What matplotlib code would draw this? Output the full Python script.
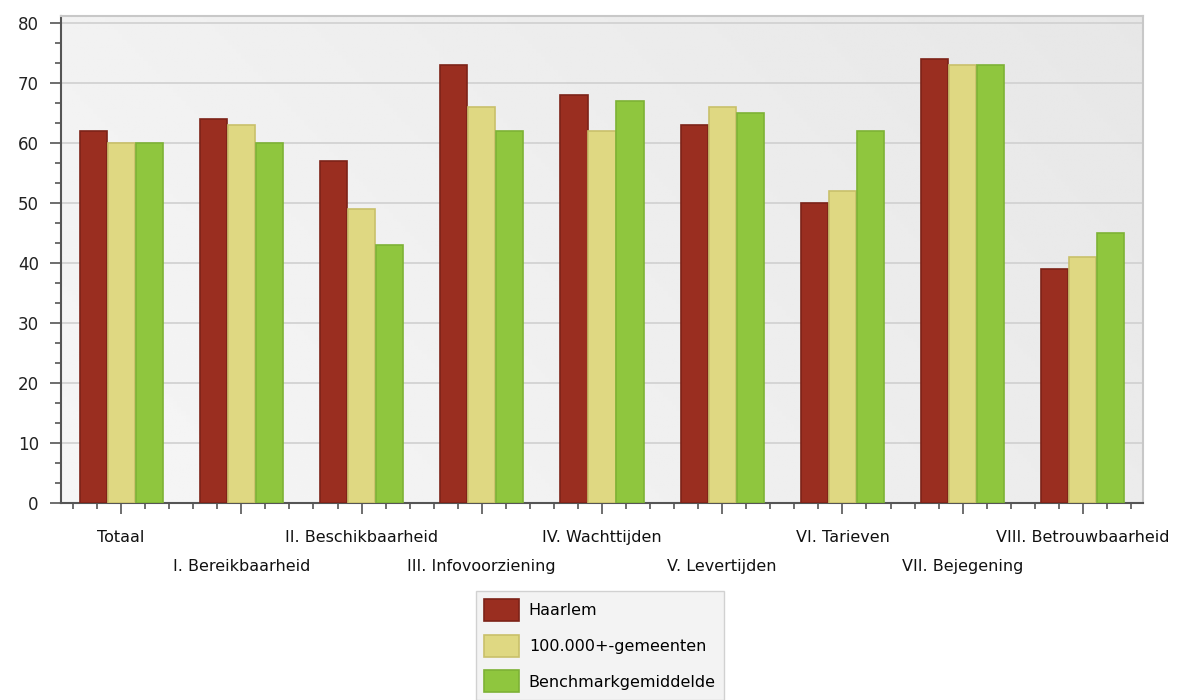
import numpy as np
import matplotlib.pyplot as plt
from matplotlib.ticker import MultipleLocator

categories = ["Totaal", "I. Bereikbaarheid", "II. Beschikbaarheid", "III. Infovoorziening",
              "IV. Wachttijden", "V. Levertijden", "VI. Tarieven", "VII. Bejegening",
              "VIII. Betrouwbaarheid"]
series_names = ["Haarlem", "100.000+-gemeenten", "Benchmarkgemiddelde"]
haarlem = [62, 64, 57, 73, 68, 63, 50, 74, 39]
gemeenten = [60, 63, 49, 66, 62, 66, 52, 73, 41]
benchmark = [60, 60, 43, 62, 67, 65, 62, 73, 45]

colors = ["#9a2e20", "#dfd882", "#8fc63e"]
edges = ["#7d2318", "#c9c06a", "#7db235"]

fig = plt.figure(figsize=(11.9, 7), dpi=100)
ax = fig.add_axes([61 / 1190, 1 - 503 / 700, 1082 / 1190, 487 / 700])

# gradient background
grad = np.linspace(0, 1, 256)
gx, gy = np.meshgrid(grad, grad)
bg = 0.965 - 0.06 * (0.7 * gx + 0.3 * (1 - gy))
ax.imshow(bg, extent=[-0.5, 8.5, 0, 81.2], aspect="auto", cmap="gray",
          vmin=0, vmax=1, origin="upper", zorder=0)

x = np.arange(len(categories))
w = 0.225
step = 0.233
for i, vals in enumerate([haarlem, gemeenten, benchmark]):
    ax.bar(x + (i - 1) * step, vals, width=w, color=colors[i], edgecolor=edges[i],
           linewidth=1.2, label=series_names[i], zorder=3)

ax.set_xlim(-0.5, 8.5)
ax.set_ylim(0, 81.2)
ax.yaxis.set_major_locator(MultipleLocator(10))
ax.yaxis.set_minor_locator(MultipleLocator(10 / 3))
ax.set_xticks(x)
ax.set_xticks(np.arange(-0.4, 8.5, 0.2), minor=True)
ax.set_xticklabels([])
ax.grid(axis="y", color="#d0d0d0", linewidth=1.2, zorder=1)

for s in ["top", "right"]:
    ax.spines[s].set_color("#c8c8c8")
    ax.spines[s].set_linewidth(1.5)
for s in ["left", "bottom"]:
    ax.spines[s].set_color("#555555")
    ax.spines[s].set_linewidth(1.5)

ax.tick_params(axis="both", which="major", length=8, width=1.2, color="#555555",
               labelsize=12, labelcolor="#222222")
ax.tick_params(axis="both", which="minor", length=4, width=1.2, color="#555555")
ax.tick_params(axis="y", pad=8)

for i, name in enumerate(categories):
    yoff = -0.07 if i % 2 == 0 else -0.13
    ax.text(i, yoff, name, transform=ax.get_xaxis_transform(), ha="center", va="center",
            fontsize=11.5, color="#111111")

leg = fig.legend(loc="upper center", bbox_to_anchor=(600 / 1190, 1 - 591 / 700), ncol=1,
                 fontsize=11.5, frameon=True, fancybox=False, handlelength=2.2,
                 handleheight=1.75, handletextpad=0.6, labelspacing=0.85,
                 borderpad=0.5, borderaxespad=0)
leg.get_frame().set_facecolor("#f0f0f0")
leg.get_frame().set_edgecolor("#c8c8c8")

fig.savefig("out.png", dpi=100)
